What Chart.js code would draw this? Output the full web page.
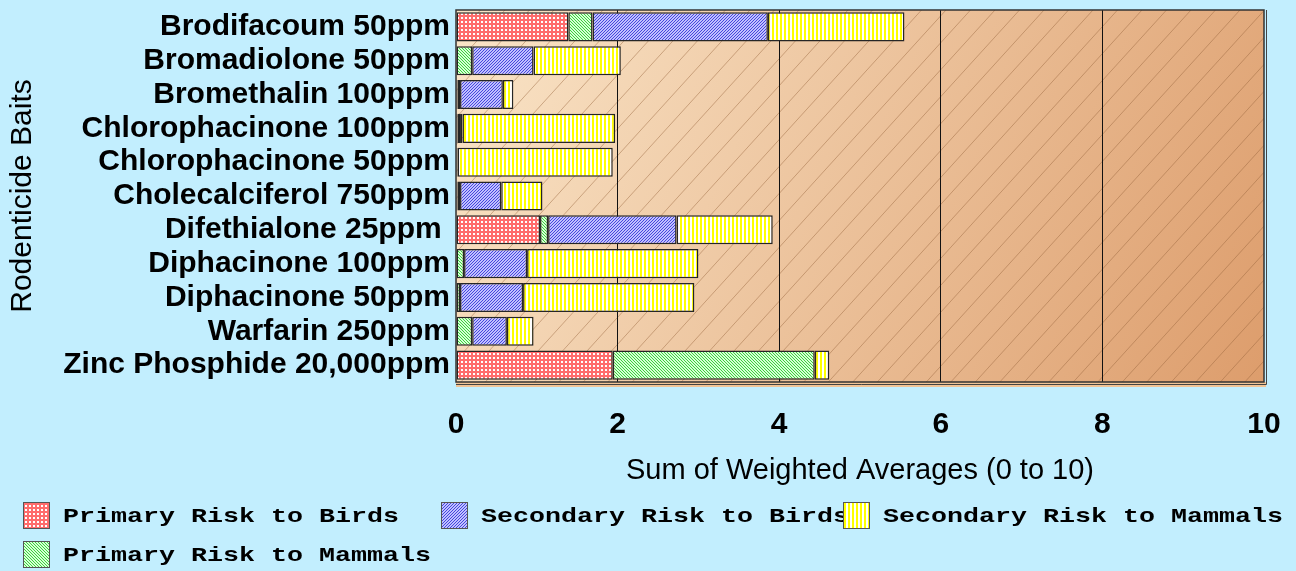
<!DOCTYPE html>
<html>
<head>
<meta charset="utf-8">
<script src="https://cdn.jsdelivr.net/npm/chart.js@4.4.0/dist/chart.umd.min.js"></script>
<style>
  html, body { margin: 0; padding: 0; background: #c2eefe; }
  #wrap { width: 1296px; height: 571px; position: relative; }
</style>
</head>
<body>
<div id="wrap"><canvas id="chart"></canvas></div>
<script>
// rodenticide baits on the y axis
const baits = [
  'Brodifacoum 50ppm',
  'Bromadiolone 50ppm',
  'Bromethalin 100ppm',
  'Chlorophacinone 100ppm',
  'Chlorophacinone 50ppm',
  'Cholecalciferol 750ppm',
  'Difethialone 25ppm ',
  'Diphacinone 100ppm',
  'Diphacinone 50ppm',
  'Warfarin 250ppm',
  'Zinc Phosphide 20,000ppm'
];

// weighted averages
const primaryBirds     = [1.39, 0.00, 0.02, 0.02, 0.00, 0.02, 1.04, 0.00, 0.00, 0.00, 1.94];
const primaryMammals   = [0.30, 0.20, 0.03, 0.03, 0.02, 0.03, 0.10, 0.10, 0.05, 0.20, 2.50];
const secondaryBirds   = [2.17, 0.76, 0.53, 0.03, 0.00, 0.51, 1.59, 0.78, 0.78, 0.43, 0.00];
const secondaryMammals = [1.69, 1.08, 0.13, 1.89, 1.92, 0.51, 1.19, 2.12, 2.12, 0.33, 0.18];

const xMin = 0, xMax = 10, xStep = 2;

function makePattern(w, h, paint) {
  const c = document.createElement('canvas');
  c.width = w; c.height = h;
  const g = c.getContext('2d');
  paint(g);
  return g.createPattern(c, 'repeat');
}

// red checks
const redFill = makePattern(4, 4, g => {
  g.fillStyle = '#ff6c6c'; g.fillRect(0, 0, 4, 4);
  g.fillStyle = '#ffffff'; g.fillRect(1, 1, 2, 2);
});
// green \\\ lines
const greenFill = makePattern(3, 3, g => {
  g.fillStyle = '#d6ffd6'; g.fillRect(0, 0, 3, 3);
  g.fillStyle = '#3ccf3c';
  for (let i = 0; i < 3; i++) g.fillRect(i, i, 1, 1);
});
// blue /// lines
const blueFill = makePattern(3, 3, g => {
  g.fillStyle = '#c0c0ff'; g.fillRect(0, 0, 3, 3);
  g.fillStyle = '#4646dc';
  for (let i = 0; i < 3; i++) g.fillRect(2 - i, i, 1, 1);
});
// yellow vertical stripes
const yellowFill = makePattern(4, 1, g => {
  g.fillStyle = '#ffffff'; g.fillRect(0, 0, 4, 1);
  g.fillStyle = '#ffff00'; g.fillRect(0, 0, 2, 1);
});

const legendCols = [23, 441, 843];
const legendRows = [502, 541];
// [column, row] for each dataset in the legend
const legendSlot = [[0, 0], [0, 1], [1, 0], [2, 0]];

const plotDecor = {
  id: 'plotDecor',
  beforeDraw(chart) {
    const { ctx, chartArea: a } = chart;
    const w = a.right - a.left, h = a.bottom - a.top;
    ctx.save();
    // floor strip under the plot
    ctx.fillStyle = '#f1c496';
    ctx.fillRect(a.left, a.bottom, w + 2, 5);
    const grad = ctx.createLinearGradient(a.left, a.top, a.right, a.bottom);
    grad.addColorStop(0, '#fae5c8');
    grad.addColorStop(1, '#dd9d6c');
    ctx.fillStyle = grad;
    ctx.fillRect(a.left, a.top, w, h);
    ctx.beginPath();
    ctx.rect(a.left, a.top, w, h);
    ctx.clip();
    ctx.beginPath();
    ctx.strokeStyle = 'rgba(150, 100, 60, 0.45)';
    ctx.lineWidth = 1;
    const run = h / 1.1;
    for (let x = a.left - run; x < a.right + 1; x += 24.5) {
      ctx.moveTo(x, a.bottom);
      ctx.lineTo(x + run, a.top);
    }
    ctx.stroke();
    ctx.restore();
  },
  afterDraw(chart) {
    const { ctx, chartArea: a } = chart;
    ctx.save();
    // frame
    ctx.strokeStyle = '#333';
    ctx.lineWidth = 1.5;
    ctx.strokeRect(a.left, a.top, a.right - a.left, a.bottom - a.top);
    ctx.lineWidth = 1;
    ctx.strokeStyle = '#444';
    ctx.beginPath();
    ctx.moveTo(a.right + 2.5, a.top);
    ctx.lineTo(a.right + 2.5, a.bottom + 2.5);
    ctx.lineTo(a.left, a.bottom + 2.5);
    ctx.stroke();

    // legend
    chart.data.datasets.forEach((ds, i) => {
      const [c, r] = legendSlot[i];
      const x = legendCols[c], y = legendRows[r];
      ctx.fillStyle = ds.backgroundColor;
      ctx.fillRect(x, y, 27, 27);
      ctx.strokeStyle = '#555';
      ctx.lineWidth = 1;
      ctx.strokeRect(x + 0.5, y + 0.5, 26, 26);
      ctx.save();
      ctx.translate(x + 40, y + 15);
      ctx.scale(1.27, 1);
      ctx.font = 'bold 21px "Liberation Mono", "Courier New", monospace';
      ctx.fillStyle = '#000';
      ctx.textBaseline = 'middle';
      ctx.textAlign = 'left';
      ctx.fillText(ds.label, 0, 0);
      ctx.restore();
    });
    ctx.restore();
  }
};

const barStyle = { borderColor: '#262626', borderWidth: 1.5, borderSkipped: false };

new Chart(document.getElementById('chart'), {
  type: 'bar',
  data: {
    labels: baits,
    datasets: [
      { label: 'Primary Risk to Birds', data: primaryBirds, backgroundColor: redFill, ...barStyle },
      { label: 'Primary Risk to Mammals', data: primaryMammals, backgroundColor: greenFill, ...barStyle },
      { label: 'Secondary Risk to Birds', data: secondaryBirds, backgroundColor: blueFill, ...barStyle },
      { label: 'Secondary Risk to Mammals', data: secondaryMammals, backgroundColor: yellowFill, ...barStyle }
    ]
  },
  options: {
    indexAxis: 'y',
    responsive: true,
    maintainAspectRatio: false,
    animation: false,
    layout: { padding: { top: 10, right: 32, bottom: 71, left: 0 } },
    datasets: { bar: { barPercentage: 0.86, categoryPercentage: 1 } },
    plugins: {
      legend: { display: false },
      tooltip: { enabled: false }
    },
    scales: {
      x: {
        stacked: true,
        min: xMin,
        max: xMax,
        afterFit(scale) {
          scale.height = 118;
          scale.paddingLeft = 0;
          scale.paddingRight = 0;
        },
        ticks: {
          stepSize: xStep,
          color: '#000',
          padding: 25,
          font: { family: 'Arial, "Liberation Sans", sans-serif', size: 30, weight: 'bold', lineHeight: 1.2 }
        },
        grid: {
          drawTicks: false,
          color: ctx => (ctx.tick && (ctx.tick.value === xMin || ctx.tick.value === xMax)) ? 'rgba(0,0,0,0)' : '#111',
          lineWidth: 1
        },
        border: { display: false },
        title: {
          display: true,
          text: 'Sum of Weighted Averages (0 to 10)',
          color: '#000',
          padding: { top: 0, bottom: 12 },
          font: { family: 'Arial, "Liberation Sans", sans-serif', size: 29, lineHeight: 1.2 }
        }
      },
      y: {
        stacked: true,
        afterFit(scale) {
          scale.width = 456;
          scale.paddingTop = 0;
          scale.paddingBottom = 0;
        },
        ticks: {
          autoSkip: false,
          color: '#000',
          padding: 6,
          font: { family: 'Arial, "Liberation Sans", sans-serif', size: 30, weight: 'bold', lineHeight: 1 }
        },
        grid: { display: false, drawTicks: false },
        border: { display: false },
        title: {
          display: true,
          text: 'Rodenticide Baits',
          color: '#000',
          padding: { top: 5, bottom: 0 },
          font: { family: 'Arial, "Liberation Sans", sans-serif', size: 30, lineHeight: 1.2 }
        }
      }
    }
  },
  plugins: [plotDecor]
});
</script>
</body>
</html>
